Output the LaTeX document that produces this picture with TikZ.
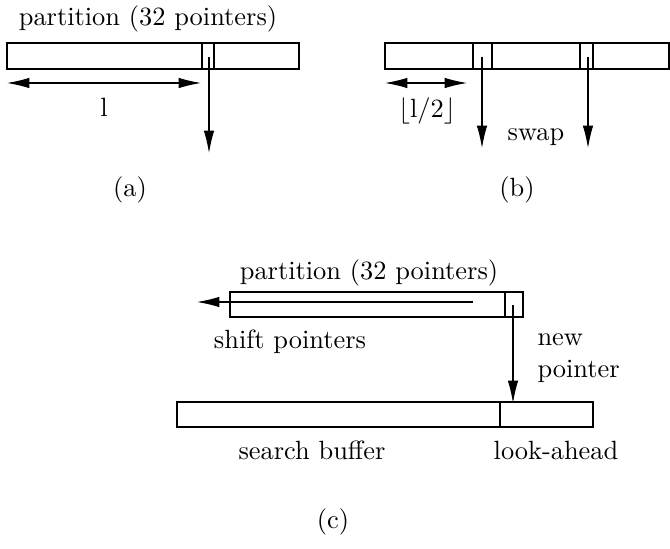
\documentclass[tikz,border=0pt]{standalone}
\usetikzlibrary{arrows.meta}
\begin{document}
\begin{tikzpicture}[x=0.379pt,y=-0.379pt,
  every node/.style={font=\normalsize},
  tip/.style={-{Latex[length=8.5pt,width=4pt]}},
  dtip/.style={{Latex[length=8.5pt,width=4pt]}-{Latex[length=8.5pt,width=4pt]}},
  lbl/.style={inner sep=0pt},
  line width=0.4pt]
\useasboundingbox (0,0) rectangle (670,549);
% (a)
\draw (7,43) rectangle (299,69);
\draw (202,43) -- (202,69) (214,43) -- (214,69);
\node[lbl] (ta) at (148,19) {partition (32 pointers)};
\coordinate (as) at (209,57);
\coordinate (ae) at (209,153);
\draw[tip] (as) -- (ae);
\coordinate (al) at (7,83);
\coordinate (ar) at (201,83);
\draw[dtip] (al) -- (ar);
\node[lbl] (l) at (104,107) {l};
\node[lbl] (capa) at (130,190) {(a)};
% (b)
\draw (385,43) rectangle (669,69);
\draw (473,43) -- (473,69) (492,43) -- (492,69);
\draw (580,43) -- (580,69) (593,43) -- (593,69);
\coordinate (bs1) at (482,57);
\coordinate (be1) at (482,148);
\coordinate (bs2) at (588,57);
\coordinate (be2) at (588,148);
\draw[tip] (bs1) -- (be1);
\draw[tip] (bs2) -- (be2);
\coordinate (bl) at (385,83);
\coordinate (br) at (467,83);
\draw[dtip] (bl) -- (br);
\node[lbl] (half) at (427,111) {$\lfloor \mathrm{l}/2\rfloor$};
\node[lbl] (swap) at (536,137) {swap};
\node[lbl] (capb) at (517,190) {(b)};
% (c)
\node[lbl] (tc) at (369,273) {partition (32 pointers)};
\draw (230,292) rectangle (523,317);
\draw (505,292) -- (505,317);
\coordinate (cs) at (473,302);
\coordinate (ce) at (197,302);
\draw[tip] (cs) -- (ce);
\coordinate (ds) at (513,305);
\coordinate (de) at (513,403);
\draw[tip] (ds) -- (de);
\node[lbl] (shift) at (290,342) {shift pointers};
\node[lbl,anchor=west] (new) at (537,340) {new};
\node[lbl,anchor=west] (ptr) at (537,371) {pointer};
\draw (177,402) rectangle (593,427);
\draw (500,402) -- (500,427);
\node[lbl] (sb) at (312,450) {search buffer};
\node[lbl] (la) at (556,450) {look-ahead};
\node[lbl] (capc) at (333,522) {(c)};
\end{tikzpicture}
\end{document}
